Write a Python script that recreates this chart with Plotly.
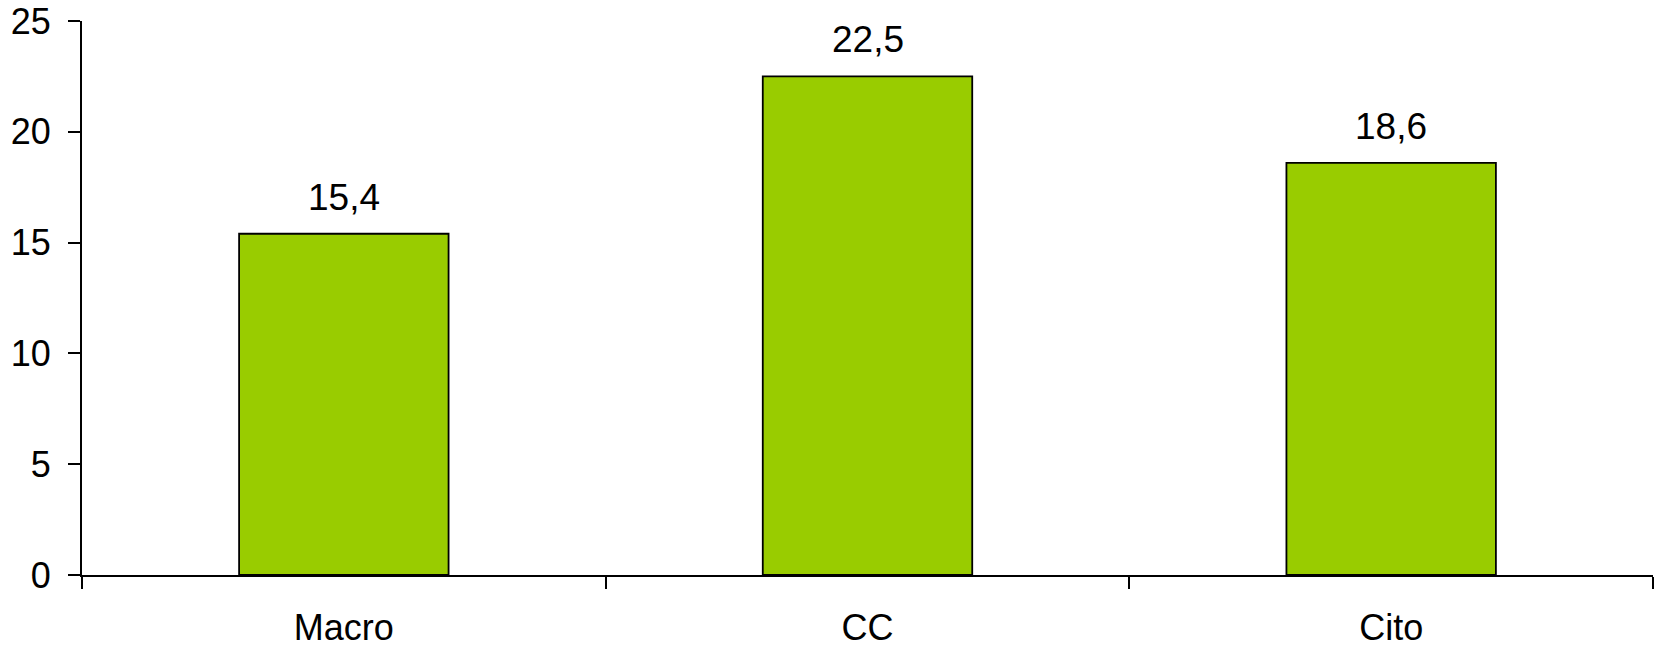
import plotly.graph_objects as go

categories = ["Macro", "CC", "Cito"]
values = [15.4, 22.5, 18.6]
y_ticks = [0, 5, 10, 15, 20, 25]

FONT = "Liberation Sans, Arial, sans-serif"

fig = go.Figure()
fig.add_trace(go.Bar(
    x=categories,
    y=values,
    marker=dict(color="#99CC00", line=dict(color="black", width=1.8)),
    hoverinfo="skip",
))

# value labels above each bar
for c, v in zip(categories, values):
    fig.add_annotation(
        x=c, y=v, text=f"{v:.1f}".replace(".", ","),
        showarrow=False, yanchor="bottom", yshift=14,
        font=dict(family=FONT, size=37, color="black"),
    )

fig.update_layout(
    width=1661, height=647,
    margin=dict(l=82, r=8, t=21, b=72),
    paper_bgcolor="white", plot_bgcolor="white",
    bargap=0.6,
    showlegend=False,
    separators=",.",
    font=dict(family=FONT, size=36, color="black"),
)
fig.update_xaxes(
    type="category",
    automargin=False,
    tickson="boundaries",
    ticks="outside", ticklen=12, tickwidth=2, tickcolor="black",
    showline=True, linecolor="black", linewidth=2,
    showgrid=False, zeroline=False,
    tickfont=dict(family=FONT, size=36, color="black"),
    ticklabelstandoff=20,
)
fig.update_yaxes(
    range=[0, 25],
    automargin=False,
    tickvals=y_ticks,
    ticks="outside", ticklen=12, tickwidth=2, tickcolor="black",
    showline=True, linecolor="black", linewidth=2,
    showgrid=False, zeroline=False,
    tickfont=dict(family=FONT, size=36, color="black"),
    ticklabelstandoff=10,
)

fig.write_html("out.html")
